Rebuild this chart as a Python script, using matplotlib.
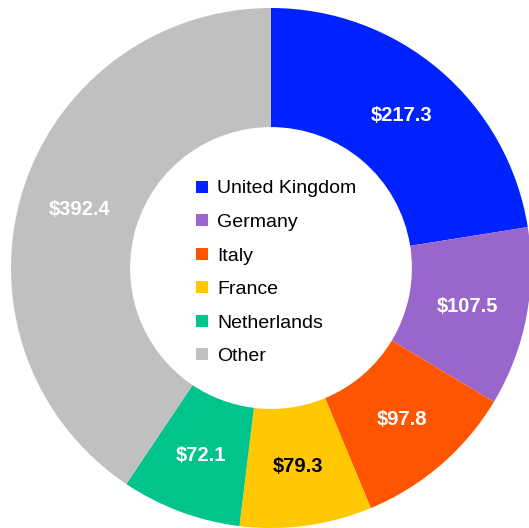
import matplotlib.pyplot as plt
from matplotlib.lines import Line2D

plt.rcParams["font.family"] = ["Liberation Sans", "DejaVu Sans"]

countries = ["United Kingdom", "Germany", "Italy", "France", "Netherlands", "Other"]
values = [217.3, 107.5, 97.8, 79.3, 72.1, 392.4]
colors = ["#0022FF", "#9966CC", "#FF5500", "#FFC800", "#00C48C", "#C0C0C0"]
label_colors = ["white", "white", "white", "black", "white", "white"]

W, H = 529, 528
CX, CY, R = 271, 268, 260  # centro e raggio in pixel

fig = plt.figure(figsize=(W / 100, H / 100), dpi=100)
ax = fig.add_axes([0, 0, 1, 1])

total = sum(values)
wedges, _, autotexts = ax.pie(
    values,
    colors=colors,
    startangle=90,
    counterclock=False,
    radius=1.0,
    wedgeprops=dict(width=0.458, linewidth=0),
    autopct=lambda pct: f"${pct * total / 100:.1f}",
    pctdistance=0.771,
    textprops=dict(fontsize=14.5, fontweight="bold"),
)
for txt, col in zip(autotexts, label_colors):
    txt.set_color(col)

ax.set_aspect("auto")
ax.set_xlim(-CX / R, (W - CX) / R)
ax.set_ylim(-(H - CY) / R, CY / R)
ax.axis("off")

handles = [
    Line2D([], [], marker="s", linestyle="none", markersize=8,
           markerfacecolor=c, markeredgewidth=0)
    for c in colors
]
ax.legend(
    handles,
    countries,
    loc="center left",
    bbox_to_anchor=(185 / W, 1 - 272.5 / H),
    frameon=False,
    fontsize=14,
    handlelength=0.7,
    handletextpad=0.45,
    labelspacing=0.82,
    borderpad=0,
)

fig.savefig("out.png", dpi=100)
